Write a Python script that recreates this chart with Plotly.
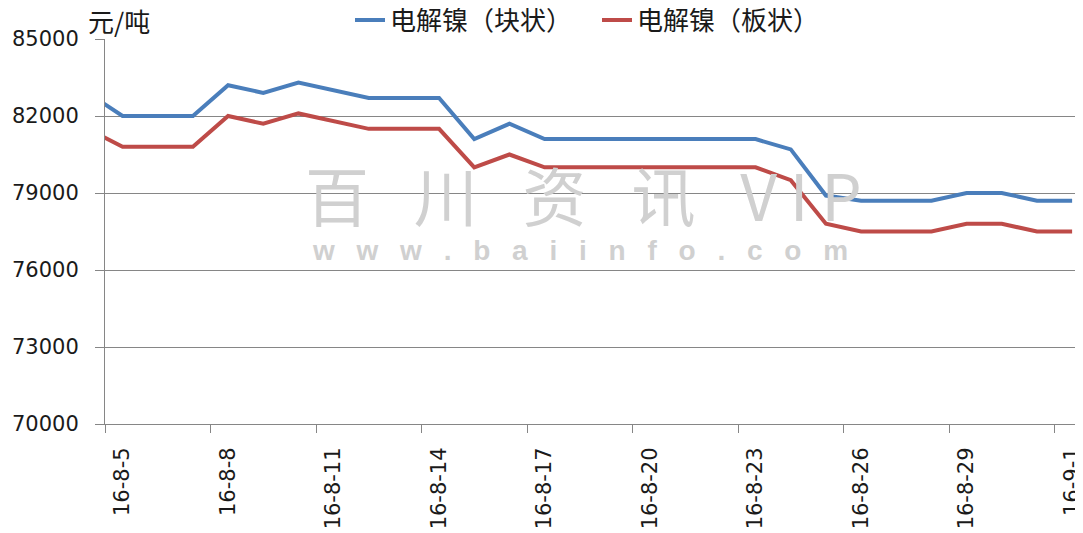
import plotly.graph_objects as go

# ---- data ----
dates = ["2016-08-04", "2016-08-05", "2016-08-06", "2016-08-07", "2016-08-08", "2016-08-09",
         "2016-08-10", "2016-08-11", "2016-08-12", "2016-08-13", "2016-08-14", "2016-08-15",
         "2016-08-16", "2016-08-17", "2016-08-18", "2016-08-19", "2016-08-20", "2016-08-21",
         "2016-08-22", "2016-08-23", "2016-08-24", "2016-08-25", "2016-08-26", "2016-08-27",
         "2016-08-28", "2016-08-29", "2016-08-30", "2016-08-31", "2016-09-01"]
block_nickel = [82900, 82000, 82000, 82000, 83200, 82900,
                83300, 83000, 82700, 82700, 82700, 81100,
                81700, 81100, 81100, 81100, 81100, 81100,
                81100, 81100, 80700, 78900, 78700, 78700,
                78700, 79000, 79000, 78700, 78700]
plate_nickel = [81500, 80800, 80800, 80800, 82000, 81700,
                82100, 81800, 81500, 81500, 81500, 80000,
                80500, 80000, 80000, 80000, 80000, 80000,
                80000, 80000, 79500, 77800, 77500, 77500,
                77500, 77800, 77800, 77500, 77500]
series_names = ["电解镍（块状）", "电解镍（板状）"]
tick_dates = ["2016-08-05", "2016-08-08", "2016-08-11", "2016-08-14", "2016-08-17",
              "2016-08-20", "2016-08-23", "2016-08-26", "2016-08-29", "2016-09-01"]
tick_labels = ["16-8-5", "16-8-8", "16-8-11", "16-8-14", "16-8-17",
               "16-8-20", "16-8-23", "16-8-26", "16-8-29", "16-9-1"]
unit_label = "元/吨"
y_ticks = [70000, 73000, 76000, 79000, 82000, 85000]

BLUE = "#4A7EBB"
RED = "#BE4B48"
GRID = "#868686"
TXT = "#1a1a1a"
NUM_FONT = "DejaVu Sans"
CJK_FONT = "Noto Sans CJK SC"

fig = go.Figure()
fig.add_trace(go.Scatter(x=dates, y=block_nickel, name=series_names[0], mode="lines",
                         line=dict(color=BLUE, width=4)))
fig.add_trace(go.Scatter(x=dates, y=plate_nickel, name=series_names[1], mode="lines",
                         line=dict(color=RED, width=4)))

# the page body adds an 8px margin, so the figure is laid out 8px smaller and
# every target position below is given in screen pixels, then shifted by OFF
OFF = 8
W, H = 1083 - OFF, 533 - OFF
L, R, T, B = 105 - OFF, 0, 39 - OFF, 109
pw, ph = W - L - R, H - T - B

def px(x):
    return (x - OFF - L) / pw

def py(y):
    return (H - B - (y - OFF)) / ph

fig.update_layout(
    width=W, height=H,
    margin=dict(l=L, r=R, t=T, b=B, pad=0, autoexpand=False),
    paper_bgcolor="white", plot_bgcolor="white",
    font=dict(family=NUM_FONT, size=21, color=TXT),
    showlegend=True,
    legend=dict(orientation="h", xref="container", yref="container",
                x=(350 - OFF) / W, xanchor="left", y=1 - (20 - OFF) / H, yanchor="middle",
                font=dict(family=CJK_FONT, size=26, color=TXT),
                entrywidth=202, entrywidthmode="pixels",
                bgcolor="rgba(0,0,0,0)", borderwidth=0),
    xaxis=dict(
        type="date", automargin=False,
        range=["2016-08-04 12:00", "2016-09-01 07:26"],
        tickmode="array", tickvals=tick_dates, ticktext=tick_labels,
        tickangle=-90, ticks="", ticklabelstandoff=14, ticklabeloverflow="allow",
        tickfont=dict(family=NUM_FONT, size=21, color=TXT),
        showgrid=False, zeroline=False,
        showline=True, linecolor=GRID, linewidth=1,
        minor=dict(tickmode="linear", tick0="2016-08-04 12:00", dtick=3 * 86400000,
                   ticks="outside", ticklen=8, tickcolor=GRID, tickwidth=1, showgrid=False),
    ),
    yaxis=dict(
        automargin=False,
        range=[70000, 85000], tickmode="array", tickvals=y_ticks, tickformat="d",
        ticks="outside", ticklen=9, tickcolor=GRID, tickwidth=1,
        ticklabelstandoff=12,
        tickfont=dict(family=NUM_FONT, size=21, color=TXT),
        showgrid=True, gridcolor=GRID, gridwidth=1, zeroline=False,
        showline=True, linecolor=GRID, linewidth=1,
    ),
)

# unit label
fig.add_annotation(text=unit_label, xref="paper", yref="paper", x=px(86), y=py(21),
                   xanchor="left", yanchor="middle", showarrow=False,
                   font=dict(family=CJK_FONT, size=26, color=TXT))

# watermark
wm1 = "\u2002\u2009".join(["百", "川", "资", "讯"]) + "\u2002\u2009" + "V\u2009I\u2009P"
fig.add_annotation(text=wm1, xref="paper", yref="paper", x=px(583), y=py(193),
                   xanchor="center", yanchor="middle", showarrow=False,
                   font=dict(family=CJK_FONT, size=64, color="#d0d0d0"))
wm2 = "\u2002 ".join(list("www.baiinfo.com"))
fig.add_annotation(text="<b>" + wm2 + "</b>", xref="paper", yref="paper", x=px(580), y=py(250),
                   xanchor="center", yanchor="middle", showarrow=False,
                   font=dict(family="Liberation Sans", size=28, color="#d0d0d0"))

fig.write_html("out.html")
